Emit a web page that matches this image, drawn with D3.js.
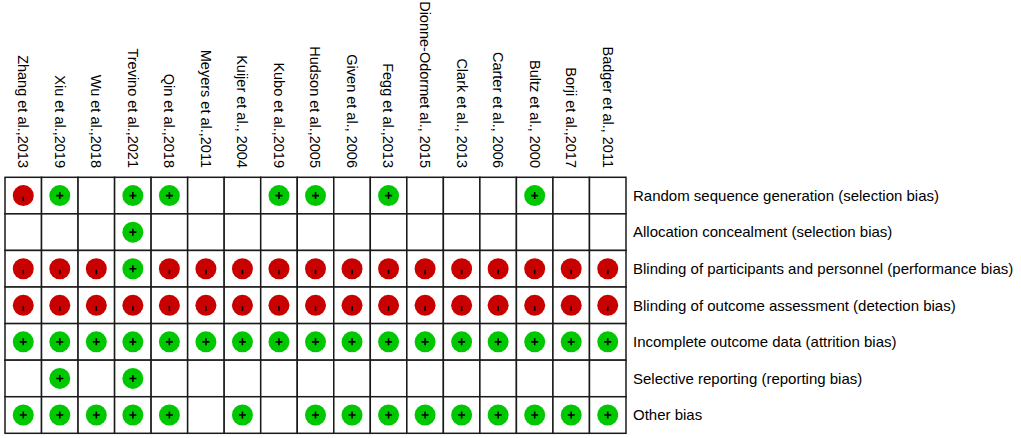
<!DOCTYPE html>
<html>
<head>
<meta charset="utf-8">
<script src="https://cdn.jsdelivr.net/npm/d3@7"></script>
<style>
    html, body { margin: 0; padding: 0; background: #fff; }
    svg { display: block; }
    text { font-family: "Liberation Sans", Arial, sans-serif; fill: #000; }
</style>
</head>
<body>
<svg id="chart"></svg>
<script>
// studies (columns) as printed on top of the grid
const studies = [
    "Zhang et al.,2013", "Xiu et al.,2019", "Wu et al.,2018", "Trevino et al.,2021",
    "Qin et al.,2018", "Meyers et al.,2011", "Kuijer et al., 2004", "Kubo et al.,2019",
    "Hudson et al.,2005", "Given et al., 2006", "Fegg et al.,2013", "Dionne-Odormet al., 2015",
    "Clark et al., 2013", "Carter et al., 2006", "Bultz et al., 2000", "Borji et al.,2017",
    "Badger et al., 2011"
];

// bias domains (rows)
const domains = [
    "Random sequence generation (selection bias)",
    "Allocation concealment (selection bias)",
    "Blinding of participants and personnel (performance bias)",
    "Blinding of outcome assessment (detection bias)",
    "Incomplete outcome data (attrition bias)",
    "Selective reporting (reporting bias)",
    "Other bias"
];

// judgements per domain, one char per study: + low, - high, ? unclear
const judgements = [
    "-+?++??++?+???+??",
    "???+?????????????",
    "---+-------------",
    "-----------------",
    "+++++++++++++++++",
    "?+?+?????????????",
    "+++++?+?+++++++++"
];

const config = {
    width: 1021,
    height: 438,
    gridLeft: 5,
    gridRight: 626,
    gridTop: 177.3,
    gridBottom: 433.3,
    radius: 10.5,
    colors: { "+": "#00c800", "-": "#c80000" }
};

const svg = d3.select("#chart")
    .attr("width", config.width)
    .attr("height", config.height);

const x = d3.scaleBand()
    .domain(studies)
    .range([config.gridLeft, config.gridRight]);

const y = d3.scaleBand()
    .domain(domains)
    .range([config.gridTop, config.gridBottom]);

const cells = [];
domains.forEach((dom, i) => {
    studies.forEach((study, j) => {
        cells.push({ study, domain: dom, value: judgements[i][j] });
    });
});

// grid
svg.append("g")
    .selectAll("rect")
    .data(cells)
    .join("rect")
    .attr("x", d => x(d.study))
    .attr("y", d => y(d.domain))
    .attr("width", x.bandwidth())
    .attr("height", y.bandwidth())
    .attr("fill", "#fff")
    .attr("stroke", "#1a1a1a")
    .attr("stroke-width", 1.5);

// judgement symbols
const marks = svg.append("g")
    .selectAll("g")
    .data(cells.filter(d => d.value !== "?"))
    .join("g")
    .attr("transform", d => `translate(${x(d.study) + x.bandwidth() / 2}, ${y(d.domain) + y.bandwidth() / 2})`);

marks.append("circle")
    .attr("r", config.radius)
    .attr("fill", d => config.colors[d.value]);

// plus sign
marks.filter(d => d.value === "+")
    .append("path")
    .attr("d", "M-3.5,0H3.5M0,-3.5V3.5")
    .attr("stroke", "#000")
    .attr("stroke-width", 1.6);

// minus sign (drawn as the short rotated bar seen in the figure)
marks.filter(d => d.value === "-")
    .append("path")
    .attr("d", "M0,1V5.5")
    .attr("stroke", "#000")
    .attr("stroke-width", 1.6);

// study labels, rotated
svg.append("g")
    .selectAll("text")
    .data(studies)
    .join("text")
    .attr("transform", d => `translate(${x(d) + x.bandwidth() / 2}, 168) rotate(90)`)
    .attr("text-anchor", "end")
    .attr("dy", "0.35em")
    .style("font-size", "14.5px")
    .text(d => d);

// domain labels
svg.append("g")
    .selectAll("text")
    .data(domains)
    .join("text")
    .attr("x", 633)
    .attr("y", d => y(d) + y.bandwidth() / 2)
    .attr("dy", "0.35em")
    .style("font-size", "15px")
    .text(d => d);
</script>
</body>
</html>
